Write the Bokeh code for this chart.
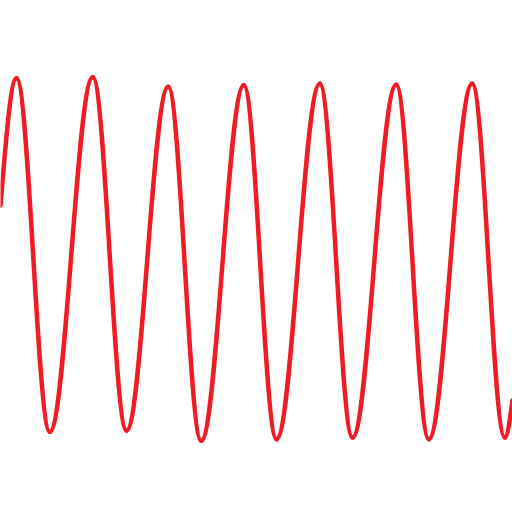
from bokeh.plotting import figure
from bokeh.models import Range1d, ColumnDataSource
from bokeh.embed import file_html
from bokeh.resources import INLINE

# Values (x in px units, y = signal level, up is positive)
start_x, start_y = 0.0, 307.0
peak_x = [16.0, 92.3, 167.7, 243.3, 319.3, 395.7, 471.7]
peak_y = [434.3, 435.3, 425.7, 427.3, 428.7, 427.7, 428.7]
trough_x = [49.3, 126.0, 200.7, 276.0, 352.0, 428.3, 504.3]
trough_y = [80.7, 82.0, 71.7, 73.3, 75.0, 73.3, 75.0]
end_x, end_y = 512.0, 112.0

# Build smooth (half-cosine-like) Bezier segments between the read extremes
knots = [(start_x, start_y, False)]
for px, py, tx, ty in zip(peak_x, peak_y, trough_x, trough_y):
    knots.append((px, py, True))
    knots.append((tx, ty, True))
knots.append((end_x, end_y, False))

K = 0.3634
seg = dict(x0=[], y0=[], x1=[], y1=[], cx0=[], cy0=[], cx1=[], cy1=[])
for (xa, ya, ea), (xb, yb, eb) in zip(knots[:-1], knots[1:]):
    dx, dy = xb - xa, yb - ya
    if ea:
        c0 = (xa + K * dx, ya)
    else:
        c0 = (xa + dx / 3, ya + dy / 2)
    if eb:
        c1 = (xb - K * dx, yb)
    else:
        c1 = (xb - dx / 3, yb - dy / 2)
    seg["x0"].append(xa); seg["y0"].append(ya)
    seg["x1"].append(xb); seg["y1"].append(yb)
    seg["cx0"].append(c0[0]); seg["cy0"].append(c0[1])
    seg["cx1"].append(c1[0]); seg["cy1"].append(c1[1])

src = ColumnDataSource(seg)

p = figure(width=512, height=512, x_range=Range1d(0, 512), y_range=Range1d(0, 512),
           toolbar_location=None, output_backend="svg", min_border=0,
           x_axis_location=None, y_axis_location=None)
p.outline_line_color = None
p.background_fill_color = "white"
p.border_fill_color = "white"
p.xgrid.visible = False
p.ygrid.visible = False

p.bezier(x0="x0", y0="y0", x1="x1", y1="y1", cx0="cx0", cy0="cy0", cx1="cx1", cy1="cy1",
         source=src, line_color="#ee1c25", line_width=4.5, line_cap="round")

open("out.html", "w").write(file_html(p, INLINE))
